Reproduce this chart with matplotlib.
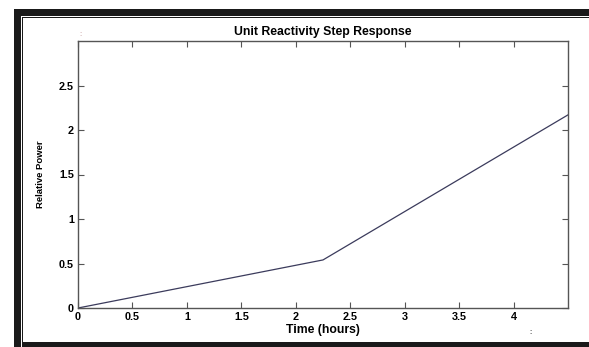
import matplotlib
matplotlib.use('Agg')
import matplotlib.pyplot as plt
from matplotlib.patches import Rectangle

plt.rcParams['font.family'] = ['Liberation Sans', 'DejaVu Sans']
plt.rcParams['font.weight'] = 'bold'

# data
time_h = [0.0, 2.25, 4.5]
rel_power = [0.0, 0.54, 2.17]
x_ticks = [0, 0.5, 1, 1.5, 2, 2.5, 3, 3.5, 4]
y_ticks = [0, 0.5, 1, 1.5, 2, 2.5]

W, H = 589, 347
fig = plt.figure(figsize=(W / 100, H / 100), dpi=100)

# black scanned frame around the plot
def px_rect(x0, y0, x1, y1):
    fig.patches.append(Rectangle((x0 / W, 1 - y1 / H), (x1 - x0) / W, (y1 - y0) / H,
                                 transform=fig.transFigure, color='#1a1a1a', lw=0, zorder=0))

px_rect(14, 9, W, 16)     # top bar
px_rect(14, 9, 21, H)     # left bar
px_rect(22, 17, W, 18.3)  # inner top line
px_rect(22, 17, 23.3, H)  # inner left line
px_rect(22, 342, W, H)    # bottom bar

ax = fig.add_axes([78 / W, 1 - 308 / H, (568 - 78) / W, (308 - 41) / H])
ax.plot(time_h, rel_power, color='#3b3b5c', lw=0.9)

ax.set_xlim(0, 4.5)
ax.set_ylim(0, 3)
ax.set_xticks(x_ticks)
ax.set_xticklabels([f'{v:g}' for v in x_ticks])
ax.set_yticks(y_ticks)
ax.set_yticklabels([f'{v:g}' for v in y_ticks])
ax.tick_params(direction='in', length=4, width=0.8, color='#555555', labelsize=7.8,
               top=True, right=True, pad=3)
for s in ax.spines.values():
    s.set_color('#555555')
    s.set_linewidth(1.0)

ax.set_title('Unit Reactivity Step Response', fontsize=8.8, fontweight='bold', pad=4)
ax.set_xlabel('Time (hours)', fontsize=8.8, fontweight='bold', labelpad=1)
ax.set_ylabel('Relative Power', fontsize=6.8, fontweight='bold', labelpad=10)

# small stray marks in the scan
fig.text(80 / W, 1 - 35 / H, ':', fontsize=5, color='#c8a0a0', ha='center', va='center')
fig.text(531 / W, 1 - 333 / H, ':', fontsize=5, color='#222222', ha='center', va='center')

fig.savefig('out.png', dpi=100)
